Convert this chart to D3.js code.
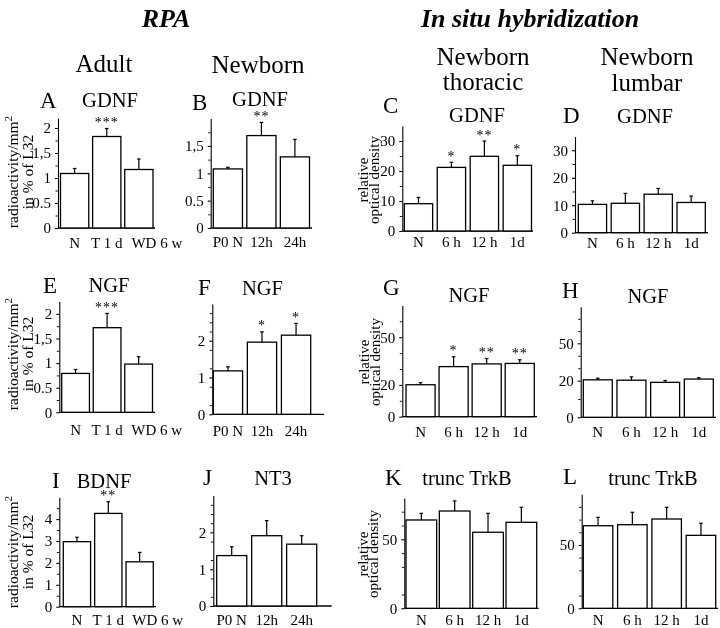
<!DOCTYPE html>
<html><head><meta charset="utf-8">
<script src="https://cdn.jsdelivr.net/npm/d3@7"></script>
<style>
body{margin:0;background:#fff}
svg{display:block}
text{font-family:"Liberation Serif","Times New Roman","DejaVu Serif",serif;fill:#000}
</style></head>
<body><svg id="c" width="720" height="628" font-family="Liberation Serif, serif"></svg>
<script>
// ---------- categories ----------
const catsAdult = ["N", "T 1 d", "WD 6 w"];
const catsNewborn = ["P0 N", "12h", "24h"];
const catsISH = ["N", "6 h", "12 h", "1d"];

// ---------- values (mean) and error (SEM) ----------
const meanA = [1.09, 1.83, 1.17];  const semA = [0.10, 0.16, 0.21];  const sigA = ["", "***", ""];
const meanB = [1.08, 1.69, 1.30];  const semB = [0.03, 0.24, 0.32];  const sigB = ["", "**", ""];
const meanC = [9.1, 21.2, 24.9, 21.9]; const semC = [2.1, 1.7, 5.1, 3.2]; const sigC = ["", "*", "**", "*"];
const meanD = [10.3, 10.7, 14.0, 11.0]; const semD = [1.3, 3.6, 2.1, 2.3]; const sigD = ["", "", "", ""];
const meanE = [0.79, 1.72, 0.98];  const semE = [0.08, 0.29, 0.15];  const sigE = ["", "***", ""];
const meanF = [1.18, 1.96, 2.15];  const semF = [0.11, 0.28, 0.32];  const sigF = ["", "*", "*"];
const meanG = [20.1, 31.5, 33.2, 33.5]; const semG = [1.3, 6.2, 3.4, 2.3]; const sigG = ["", "*", "**", "**"];
const meanH = [20.7, 20.4, 19.1, 21.3]; const semH = [1.3, 2.7, 1.1, 1.1]; const sigH = ["", "", "", ""];
const meanI = [2.97, 4.26, 2.05];  const semI = [0.20, 0.53, 0.43];  const sigI = ["", "**", ""];
const meanJ = [1.37, 1.91, 1.68];  const semJ = [0.24, 0.41, 0.23];  const sigJ = ["", "", ""];
const meanK = [64.0, 70.5, 55.1, 62.3]; const semK = [4.8, 7.3, 13.7, 10.9]; const sigK = ["", "", "", ""];
const meanL = [65.2, 66.0, 70.5, 57.6]; const semL = [6.6, 9.8, 9.2, 9.5]; const sigL = ["", "", "", ""];

// ---------- tick values and labels ----------
const ticksA = [0, 0.5, 1, 1.5, 2];   const tickLabA = ["0", "0.5", "1", "1,5", "2"];
const ticksB = [0, 0.5, 1, 1.5];      const tickLabB = ["0", "0.5", "1", "1,5"];
const ticksC = [0, 10, 20, 30];       const tickLabC = ["0", "10", "20", "30"];
const ticksF = [0, 1, 2];             const tickLabF = ["0", "1", "2"];
const ticksG = [0, 20, 50];           const tickLabG = ["0", "20", "50"];
const ticksI = [0, 1, 2, 3, 4];       const tickLabI = ["0", "1", "2", "3", "4"];
const ticksK = [0, 50];               const tickLabK = ["0", "50"];
const minorQuarter = [0.25, 0.75, 1.25, 1.75, 2.25, 2.5, 2.75];
const minorFive = [5, 15, 25, 35];
const minorTen = [10, 30, 40, 60, 70, 80];
const minorHalf = [0.5, 1.5, 2.5, 3.5, 4.5];

// ---------- panel specs ----------
const panels = [
  {L:"A", gene:"GDNF", cats:catsAdult, mean:meanA, sem:semA, sig:sigA, ticks:ticksA, tl:tickLabA, minor:minorQuarter, dom:[0,2.2]},
  {L:"B", gene:"GDNF", cats:catsNewborn, mean:meanB, sem:semB, sig:sigB, ticks:ticksB, tl:tickLabB, minor:minorQuarter, dom:[0,2.0]},
  {L:"C", gene:"GDNF", cats:catsISH, mean:meanC, sem:semC, sig:sigC, ticks:ticksC, tl:tickLabC, minor:minorFive, dom:[0,35]},
  {L:"D", gene:"GDNF", cats:catsISH, mean:meanD, sem:semD, sig:sigD, ticks:ticksC, tl:tickLabC, minor:minorFive, dom:[0,35]},
  {L:"E", gene:"NGF", cats:catsAdult, mean:meanE, sem:semE, sig:sigE, ticks:ticksA, tl:tickLabA, minor:minorQuarter, dom:[0,2.25]},
  {L:"F", gene:"NGF", cats:catsNewborn, mean:meanF, sem:semF, sig:sigF, ticks:ticksF, tl:tickLabF, minor:minorQuarter, dom:[0,3]},
  {L:"G", gene:"NGF", cats:catsISH, mean:meanG, sem:semG, sig:sigG, ticks:ticksG, tl:tickLabG, minor:minorTen, dom:[0,70]},
  {L:"H", gene:"NGF", cats:catsISH, mean:meanH, sem:semH, sig:sigH, ticks:ticksG, tl:tickLabG, minor:minorTen, dom:[0,20,50,80]},
  {L:"I", gene:"BDNF", cats:catsAdult, mean:meanI, sem:semI, sig:sigI, ticks:ticksI, tl:tickLabI, minor:minorHalf, dom:[0,5]},
  {L:"J", gene:"NT3", cats:catsNewborn, mean:meanJ, sem:semJ, sig:sigJ, ticks:ticksF, tl:tickLabF, minor:minorQuarter, dom:[0,3]},
  {L:"K", gene:"trunc TrkB", cats:catsISH, mean:meanK, sem:semK, sig:sigK, ticks:ticksK, tl:tickLabK, minor:minorTen, dom:[0,80]},
  {L:"L", gene:"trunc TrkB", cats:catsISH, mean:meanL, sem:semL, sig:sigL, ticks:ticksK, tl:tickLabK, minor:minorTen, dom:[0,90]}
];

// ---------- layout (pixel placement) ----------
const layout = {
  A:{ax:58, b0:60.5, b1:153, ae:155, rng:[228,118], pad:0.12, xly:248, lx:40, ly:108, gx:110, gy:107, yl:"rpa", ylx:[18,32.5], yly:172},
  B:{ax:210.7, b0:213.3, b1:309.5, ae:312, rng:[228,118.6], pad:0.13, xly:247, lx:192, ly:110, gx:260, gy:106},
  C:{ax:402.3, b0:404.3, b1:531.5, ae:533, rng:[231,126], pad:0.14, xly:247, lx:383, ly:113, gx:477, gy:121.5, yl:"ish", ylx:[367.5,378.5], yly:180},
  D:{ax:575, b0:578.3, b1:705.3, ae:708, rng:[232.7,136.5], pad:0.14, xly:248, lx:563, ly:123, gx:645, gy:123},
  E:{ax:59.3, b0:61.7, b1:152.5, ae:155, rng:[412.3,301.6], pad:0.12, xly:435, lx:43, ly:293, gx:109, gy:291.5, yl:"rpa", ylx:[18,32.5], yly:354},
  F:{ax:212.3, b0:213.3, b1:310.7, ae:324, rng:[414.3,303.9], pad:0.14, xly:436, lx:198, ly:295, gx:262.5, gy:295},
  G:{ax:402.3, b0:406, b1:534.3, ae:537, rng:[416.7,305.4], pad:0.12, xly:437, lx:383, ly:295, gx:469, gy:301.5, yl:"ish", ylx:[369,380], yly:362},
  H:{ax:580.7, b0:583.3, b1:713.3, ae:716, rng:[417.3,380.7,343.3,306.7], pad:0.14, xly:437, lx:562, ly:298, gx:648, gy:303},
  I:{ax:59.3, b0:63.3, b1:153.3, ae:156, rng:[606.7,497.2], pad:0.13, xly:625, lx:52, ly:488, gx:104, gy:487.5, yl:"rpa", ylx:[18,32.5], yly:552},
  J:{ax:213.3, b0:216.7, b1:316.7, ae:331.7, rng:[606,495.6], pad:0.14, xly:625, lx:203, ly:485, gx:273, gy:485},
  K:{ax:404.3, b0:406, b1:536.7, ae:538.5, rng:[608.3,497.9], pad:0.08, xly:625, lx:385, ly:485, gx:467, gy:485, yl:"ish", ylx:[367.5,377.5], yly:554},
  L:{ax:581.7, b0:583.3, b1:715.7, ae:718, rng:[608.3,494.3], pad:0.14, xly:625, lx:563, ly:484, gx:653, gy:485}
};
const xLabelShift = {"WD 6 w": 18};
const FONT = '"Liberation Serif","Times New Roman","DejaVu Serif",serif';

const svg = d3.select("#c");
// identity filter: forces grayscale rasterisation of the whole drawing
const flt = svg.append("defs").append("filter").attr("id","gray").attr("x",0).attr("y",0).attr("width",1).attr("height",1)
  .attr("filterUnits","userSpaceOnUse");
flt.attr("width",720).attr("height",628);
flt.append("feOffset").attr("dx",0).attr("dy",0);
const root = svg.append("g").attr("filter","url(#gray)");
root.append("rect").attr("width",720).attr("height",628).attr("fill","#fff");

// headers
root.append("text").attr("x",166).attr("y",27).attr("text-anchor","middle")
  .style("font-size","26px").style("font-weight","bold").style("font-style","italic").text("RPA");
root.append("text").attr("x",530).attr("y",27).attr("text-anchor","middle")
  .style("font-size","26px").style("font-weight","bold").style("font-style","italic").text("In situ hybridization");
const headers = [
  {t:"Adult", x:104, y:72}, {t:"Newborn", x:258, y:73},
  {t:"Newborn", x:483, y:65}, {t:"thoracic", x:483, y:90},
  {t:"Newborn", x:647, y:65}, {t:"lumbar", x:647, y:91}
];
root.selectAll("text.hdr").data(headers).enter().append("text").attr("class","hdr")
  .attr("x",d=>d.x).attr("y",d=>d.y).attr("text-anchor","middle").style("font-size","25px").text(d=>d.t);

panels.forEach(p => {
  const lo = layout[p.L];
  const g = root.append("g");
  const x = d3.scaleBand().domain(p.cats).range([lo.b0, lo.b1]).paddingInner(lo.pad).paddingOuter(0);
  const y = d3.scaleLinear().domain(p.dom).range(lo.rng);

  // y axis
  const ya = g.append("g").attr("transform",`translate(${lo.ax},0)`)
    .call(d3.axisLeft(y).tickValues(p.ticks).tickFormat((d,i)=>p.tl[i]).tickSize(3).tickSizeOuter(0).tickPadding(4));
  ya.attr("font-family", null);
  ya.selectAll("text").style("font-size","15px").style("font-family",FONT).attr("fill","#000");
  ya.selectAll("path,line").attr("stroke","#000").attr("stroke-width",1.1);
  const top = p.dom[p.dom.length-1];
  const ym = g.append("g").attr("transform",`translate(${lo.ax},0)`)
    .call(d3.axisLeft(y).tickValues(p.minor.filter(v=>v<top)).tickFormat("").tickSize(2.5).tickSizeOuter(0));
  ym.select(".domain").remove();
  ym.selectAll("line").attr("stroke","#000").attr("stroke-width",0.9);

  // baseline
  g.append("line").attr("x1",lo.ax).attr("x2",lo.ae).attr("y1",y(0)).attr("y2",y(0))
    .attr("stroke","#000").attr("stroke-width",1.3);

  // x labels
  const xa = g.append("g").attr("transform",`translate(0,${lo.xly})`)
    .call(d3.axisBottom(x).tickSize(0).tickPadding(0));
  xa.attr("font-family", null);
  xa.select(".domain").remove();
  xa.selectAll("text").attr("y",0).attr("dy",0).style("font-size","15px")
    .style("font-family",FONT).attr("fill","#000")
    .attr("dx",d=>xLabelShift[d]||0);

  // bars
  g.selectAll("rect.bar").data(p.cats).enter().append("rect")
    .attr("x",d=>x(d)).attr("width",x.bandwidth())
    .attr("y",(d,i)=>y(p.mean[i])).attr("height",(d,i)=>y(0)-y(p.mean[i]))
    .attr("fill","#fff").attr("stroke","#000").attr("stroke-width",1.3);

  // error bars
  g.selectAll("line.err").data(p.cats).enter().append("line")
    .attr("x1",d=>x(d)+x.bandwidth()/2).attr("x2",d=>x(d)+x.bandwidth()/2)
    .attr("y1",(d,i)=>y(p.mean[i])).attr("y2",(d,i)=>y(p.mean[i]+p.sem[i]))
    .attr("stroke","#000").attr("stroke-width",1.2);
  g.selectAll("line.cap").data(p.cats).enter().append("line")
    .attr("x1",d=>x(d)+x.bandwidth()/2-1.8).attr("x2",d=>x(d)+x.bandwidth()/2+1.8)
    .attr("y1",(d,i)=>y(p.mean[i]+p.sem[i])).attr("y2",(d,i)=>y(p.mean[i]+p.sem[i]))
    .attr("stroke","#000").attr("stroke-width",1.2);

  // significance
  g.selectAll("text.sig").data(p.cats).enter().append("text")
    .attr("x",d=>x(d)+x.bandwidth()/2).attr("y",(d,i)=>y(p.mean[i]+p.sem[i])-1.5)
    .attr("text-anchor","middle").style("font-size","14px").style("letter-spacing","1px")
    .style("font-family",FONT).style("fill","#000")
    .text((d,i)=>p.sig[i]);

  // panel letter and gene title
  g.append("text").attr("x",lo.lx).attr("y",lo.ly).style("font-size","23px").text(p.L);
  g.append("text").attr("x",lo.gx).attr("y",lo.gy).attr("text-anchor","middle").style("font-size","20.5px").text(p.gene);

  // y labels
  if (lo.yl === "rpa") {
    const t1 = g.append("text").attr("transform",`translate(${lo.ylx[0]},${lo.yly}) rotate(-90)`)
      .attr("text-anchor","middle").style("font-size","15.5px");
    t1.append("tspan").text("radioactivity/mm");
    t1.append("tspan").attr("dy",-6).style("font-size","11px").text("2");
    g.append("text").attr("transform",`translate(${lo.ylx[1]},${lo.yly}) rotate(-90)`)
      .attr("text-anchor","middle").style("font-size","15.5px").text("in % of L32");
  } else if (lo.yl === "ish") {
    g.append("text").attr("transform",`translate(${lo.ylx[0]},${lo.yly}) rotate(-90)`)
      .attr("text-anchor","middle").style("font-size","15px").text("relative");
    g.append("text").attr("transform",`translate(${lo.ylx[1]},${lo.yly}) rotate(-90)`)
      .attr("text-anchor","middle").style("font-size","15px").text("optical density");
  }
});
</script></body></html>
